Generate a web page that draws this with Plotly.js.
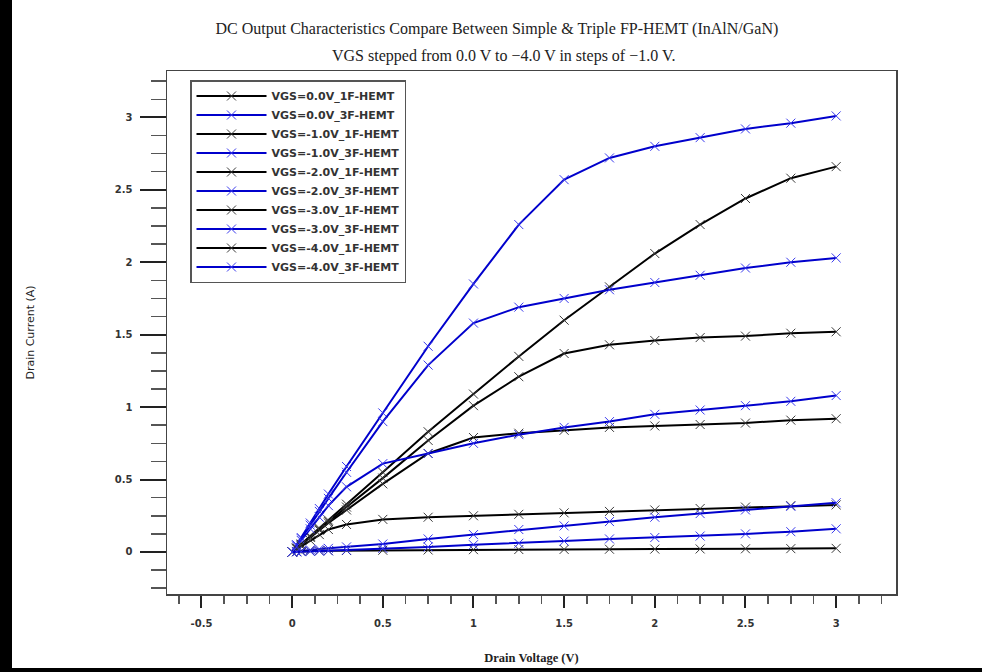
<!DOCTYPE html>
<html>
<head>
<meta charset="utf-8">
<script src="https://cdn.plot.ly/plotly-3.0.1.min.js"></script>
<style>
  html, body { margin: 0; padding: 0; background: #fff; }
  #chart { position: absolute; left: 0; top: 0; width: 982px; height: 672px; }
  #bl { position: absolute; left: 0; top: 0; width: 12px; height: 672px; background: #000; }
  #bb { position: absolute; left: 0; top: 668px; width: 982px; height: 4px; background: #000; }
</style>
</head>
<body>
<div id="chart"></div>
<div id="bl"></div>
<div id="bb"></div>
<script>
// Drain voltage sweep (V)
const vds = [0, 0.025, 0.05, 0.1, 0.15, 0.2, 0.3, 0.5, 0.75, 1.0, 1.25, 1.5, 1.75, 2.0, 2.25, 2.5, 2.75, 3.0];

// Drain current (A) for each gate bias and device
const id_vgs0_1f  = [0, 0.027, 0.055, 0.11, 0.165, 0.22, 0.33, 0.55, 0.83, 1.09, 1.35, 1.60, 1.83, 2.06, 2.26, 2.44, 2.58, 2.66];
const id_vgs0_3f  = [0, 0.05, 0.10, 0.20, 0.30, 0.40, 0.59, 0.96, 1.42, 1.85, 2.26, 2.57, 2.72, 2.80, 2.86, 2.92, 2.96, 3.01];
const id_vgsm1_1f = [0, 0.026, 0.052, 0.105, 0.155, 0.21, 0.31, 0.51, 0.77, 1.01, 1.21, 1.37, 1.43, 1.46, 1.48, 1.49, 1.51, 1.52];
const id_vgsm1_3f = [0, 0.047, 0.093, 0.185, 0.28, 0.37, 0.55, 0.90, 1.29, 1.58, 1.69, 1.75, 1.81, 1.86, 1.91, 1.96, 2.00, 2.03];
const id_vgsm2_1f = [0, 0.025, 0.05, 0.10, 0.15, 0.20, 0.29, 0.47, 0.68, 0.79, 0.82, 0.84, 0.86, 0.87, 0.88, 0.89, 0.91, 0.92];
const id_vgsm2_3f = [0, 0.04, 0.08, 0.16, 0.24, 0.32, 0.45, 0.61, 0.68, 0.75, 0.81, 0.86, 0.90, 0.95, 0.98, 1.01, 1.04, 1.08];
const id_vgsm3_1f = [0, 0.02, 0.04, 0.08, 0.12, 0.155, 0.19, 0.225, 0.24, 0.25, 0.26, 0.27, 0.28, 0.29, 0.30, 0.31, 0.32, 0.325];
const id_vgsm3_3f = [0, 0.004, 0.008, 0.015, 0.02, 0.025, 0.035, 0.055, 0.09, 0.12, 0.155, 0.18, 0.21, 0.24, 0.265, 0.29, 0.315, 0.34];
const id_vgsm4_1f = [0, 0.002, 0.004, 0.006, 0.008, 0.009, 0.01, 0.012, 0.014, 0.016, 0.017, 0.018, 0.019, 0.02, 0.021, 0.022, 0.023, 0.025];
const id_vgsm4_3f = [0, 0.001, 0.002, 0.004, 0.006, 0.008, 0.012, 0.025, 0.035, 0.05, 0.06, 0.075, 0.09, 0.10, 0.11, 0.125, 0.14, 0.16];

const seriesNames = [
  "VGS=0.0V_1F-HEMT", "VGS=0.0V_3F-HEMT",
  "VGS=-1.0V_1F-HEMT", "VGS=-1.0V_3F-HEMT",
  "VGS=-2.0V_1F-HEMT", "VGS=-2.0V_3F-HEMT",
  "VGS=-3.0V_1F-HEMT", "VGS=-3.0V_3F-HEMT",
  "VGS=-4.0V_1F-HEMT", "VGS=-4.0V_3F-HEMT"
];
const seriesValues = [
  id_vgs0_1f, id_vgs0_3f, id_vgsm1_1f, id_vgsm1_3f, id_vgsm2_1f,
  id_vgsm2_3f, id_vgsm3_1f, id_vgsm3_3f, id_vgsm4_1f, id_vgsm4_3f
];

// Tick labels
const xTickVals = [-0.5, 0, 0.5, 1, 1.5, 2, 2.5, 3];
const xTickText = ["-0.5", "0", "0.5", "1", "1.5", "2", "2.5", "3"];
const yTickVals = [0, 0.5, 1, 1.5, 2, 2.5, 3];
const yTickText = ["0", "0.5", "1", "1.5", "2", "2.5", "3"];

const BLACK = "#000000", BLACK_MK = "#3a3a3a";
const BLUE = "#0000cc", BLUE_MK = "#3a3aee";

const traces = seriesNames.map((name, i) => {
  const isBlue = i % 2 === 1;
  return {
    type: "scatter",
    mode: "lines+markers",
    name: name,
    x: vds,
    y: seriesValues[i],
    line: { color: isBlue ? BLUE : BLACK, width: 2 },
    marker: {
      symbol: "x-thin-open",
      size: 9,
      color: isBlue ? BLUE_MK : BLACK_MK,
      line: { width: 1, color: isBlue ? BLUE_MK : BLACK_MK }
    }
  };
});

const tickFont = { family: "DejaVu Sans", size: 10, color: "#333", weight: "bold" };

const layout = {
  width: 982,
  height: 672,
  margin: { l: 167, r: 86, t: 71, b: 78, pad: 0 },
  paper_bgcolor: "#ffffff",
  plot_bgcolor: "#ffffff",
  showlegend: true,
  title: {
    text: "DC Output Characteristics Compare Between Simple & Triple FP-HEMT (InAlN/GaN)",
    font: { family: "Liberation Serif", size: 16, color: "#222" },
    xref: "container", x: 0.506, xanchor: "center",
    yref: "container", y: 1 - 28 / 672, yanchor: "middle"
  },
  annotations: [{
    text: "VGS stepped from 0.0 V to \u22124.0 V in steps of \u22121.0 V.",
    font: { family: "Liberation Serif", size: 16, color: "#222" },
    xref: "paper", yref: "paper",
    x: (503 - 167) / 729, y: 1 + (71 - 56) / 523,
    xanchor: "center", yanchor: "middle", showarrow: false
  }],
  xaxis: {
    range: [-0.69, 3.33],
    tickmode: "array", tickvals: xTickVals, ticktext: xTickText,
    ticks: "outside", ticklen: 12, tickwidth: 2, tickcolor: "#222",
    ticklabelstandoff: 7,
    minor: { tickmode: "linear", tick0: 0, dtick: 0.125, ticks: "outside", ticklen: 8, tickwidth: 1.5, tickcolor: "#555", showgrid: false },
    showline: true, linecolor: "#444", linewidth: 1.5, mirror: true,
    showgrid: false, zeroline: false,
    tickfont: tickFont,
    title: { text: "Drain Voltage (V)", font: { family: "Liberation Serif", size: 12.5, color: "#222", weight: "bold" }, standoff: 25 }
  },
  yaxis: {
    range: [-0.29, 3.32],
    tickmode: "array", tickvals: yTickVals, ticktext: yTickText,
    ticks: "outside", ticklen: 26, tickwidth: 2, tickcolor: "#222",
    ticklabelstandoff: 5,
    minor: { tickmode: "linear", tick0: 0, dtick: 0.125, ticks: "outside", ticklen: 15, tickwidth: 1.5, tickcolor: "#555", showgrid: false },
    showline: true, linecolor: "#444", linewidth: 1.5, mirror: true,
    showgrid: false, zeroline: false,
    tickfont: tickFont,
    title: { text: "Drain Current (A)", font: { family: "DejaVu Sans", size: 11, color: "#222" }, standoff: 78 }
  },
  legend: {
    x: (190 - 167) / 729, y: 1 - (80 - 71) / 523,
    xanchor: "left", yanchor: "top",
    bgcolor: "#ffffff", bordercolor: "#555", borderwidth: 1.5,
    font: { family: "DejaVu Sans", size: 11, color: "#333", weight: "bold" },
    itemwidth: 70,
    entrywidth: 240, entrywidthmode: "pixels",
    tracegroupgap: 0
  }
};

Plotly.newPlot("chart", traces, layout, { displayModeBar: false, staticPlot: true });
</script>
</body>
</html>
